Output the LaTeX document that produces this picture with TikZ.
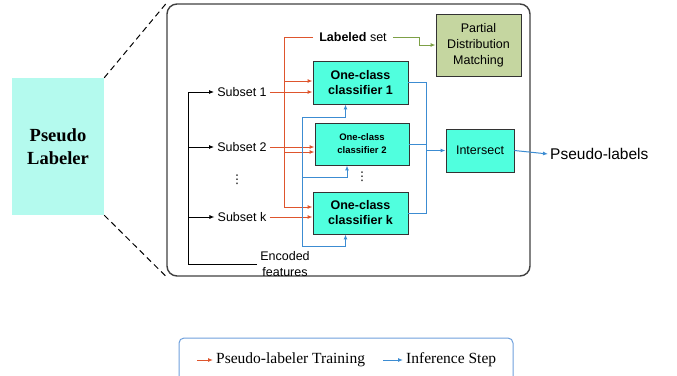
\documentclass[tikz,border=0pt]{standalone}
\usepackage{fontspec}
\setmainfont{Liberation Sans}
\newfontfamily\serifrm{Liberation Serif}
\newfontfamily\symfont{DejaVu Sans}
\usepackage{tikz}
\usetikzlibrary{arrows.meta,positioning,calc}
\definecolor{trainred}{RGB}{222,85,45}
\definecolor{inferblue}{RGB}{60,140,210}
\definecolor{clsfill}{RGB}{80,255,222}
\definecolor{plfill}{RGB}{180,250,238}
\definecolor{pdmfill}{RGB}{197,214,160}
\definecolor{pdmline}{RGB}{125,160,70}
\definecolor{legline}{RGB}{110,160,220}

\begin{document}
\begin{tikzpicture}[x=1pt, y=-1pt, >={Latex[length=5pt,width=4pt]},
  font=\fontsize{12.5}{15}\selectfont,
  cls/.style={draw=black!80, fill=clsfill, line width=0.9pt, align=center, inner sep=2pt, font=\fontsize{12.5}{15}\selectfont\bfseries},
  box/.style={draw=black!80, line width=0.9pt, align=center, inner sep=2pt},
  lbl/.style={inner sep=3pt, align=center},
  dots/.style={inner sep=1pt, font=\symfont\fontsize{12}{12}\selectfont},
  train/.style={draw=trainred, line width=1pt},
  infer/.style={draw=inferblue, line width=1pt}]
  \useasboundingbox (0,0) rectangle (677,375);
  % zoomed-out block and the frame around its contents
  \node[fill=plfill, minimum width=92pt, minimum height=137pt, align=center,
        font=\serifrm\fontsize{18.5}{23}\selectfont\bfseries] (pl) at (58,146.5) {Pseudo\\Labeler};
  \node[draw=black!75, line width=1.4pt, rounded corners=10pt, minimum width=363pt, minimum height=272pt] (frame) at (348.5,140) {};
  \draw[dash pattern=on 6pt off 4pt, line width=1pt] (pl.north east) -- (frame.north west);
  \draw[dash pattern=on 6pt off 4pt, line width=1pt] (pl.south east) -- (frame.south west);
  % inputs
  \node[lbl] (sub1) at (242,92) {Subset 1};
  \node[lbl] (sub2) at (242,147) {Subset 2};
  \node[lbl] (subk) at (242,217) {Subset k};
  \node[dots] (vd1) at (237,180) {⋮};
  \node[lbl, font=\fontsize{12.5}{16}\selectfont] (enc) at (285,264) {Encoded\\features};
  \node[lbl, inner sep=6pt] (lab) at (353,37) {\textbf{Labeled} set};
  \node[box, fill=pdmfill, minimum width=85pt, minimum height=62pt, font=\fontsize{12.5}{16}\selectfont] (pdm) at (478.5,45) {Partial\\Distribution\\Matching};
  % classifiers
  \node[cls, minimum width=95pt, minimum height=43pt] (c1) at (360.5,82.5) {One-class\\classifier 1};
  \node[cls, minimum width=94pt, minimum height=42pt, font=\fontsize{9.5}{13}\selectfont\bfseries] (c2) at (362,144) {One-class\\classifier 2};
  \node[cls, minimum width=95pt, minimum height=42pt] (ck) at (360.5,213) {One-class\\classifier k};
  \node[dots] (vd2) at (362,177) {⋮};
  \node[box, fill=clsfill, minimum width=68pt, minimum height=43pt] (inter) at (480,150.5) {Intersect};
  \node[lbl, anchor=west, inner sep=2pt, font=\fontsize{15.5}{18}\selectfont] (out) at (548,154) {Pseudo-labels};
  % bus points
  \coordinate (bus) at (188,0);
  \coordinate (r1) at (284,81);
  \coordinate (r2) at (284,152);
  \coordinate (rk) at (284,207);
  \coordinate (b1) at (302,117);
  \coordinate (b2) at (302,177);
  \coordinate (bk) at (302,246);
  \coordinate (ob) at (426,0);
  \coordinate (g) at (419,0);
  % encoded features to subsets
  \draw[line width=1pt] (enc.west) -| (bus |- sub1);
  \foreach \s in {sub1,sub2,subk} \draw[line width=1pt, ->] (bus |- \s) -- (\s.west);
  % training
  \draw[train] (lab.west) -| (rk);
  \foreach \r/\c in {r1/c1,r2/c2,rk/ck} \draw[train, ->] (\r) -- (\r -| \c.west);
  \foreach \s/\c in {sub1/c1,sub2/c2,subk/ck} \draw[train, ->] (\s.east) -- (\s.east -| \c.west);
  \draw[draw=pdmline, line width=1pt, ->] (lab.east) -- (lab.east -| g) |- (pdm.west);
  % inference
  \draw[infer] (bk) -- (b1);
  \foreach \b/\c in {b1/c1,b2/c2,bk/ck} \draw[infer, ->] (\b) -| ([xshift=-15pt]\c.south);
  \draw[infer] (c1.east) -| (ck.east -| ob) -- (ck.east);
  \draw[infer] (c2.east) -- (c2.east -| ob);
  \draw[infer, ->] (ob |- inter.west) -- (inter.west);
  \draw[infer, ->] (inter.east) -- (out.west);
  % legend
  \node[draw=legline, line width=1pt, rounded corners=5pt, minimum width=334pt, minimum height=50pt] (legend) at (346,363) {};
  \node[lbl, anchor=west, font=\serifrm\fontsize{15.5}{18}\selectfont] (leg1) at (213,360) {Pseudo-labeler Training};
  \node[lbl, anchor=west, font=\serifrm\fontsize{15.5}{18}\selectfont] (leg2) at (403,360) {Inference Step};
  \draw[train, ->] ([xshift=-16pt]leg1.west) -- (leg1.west);
  \draw[infer, ->] ([xshift=-20pt]leg2.west) -- (leg2.west);
\end{tikzpicture}
\end{document}
